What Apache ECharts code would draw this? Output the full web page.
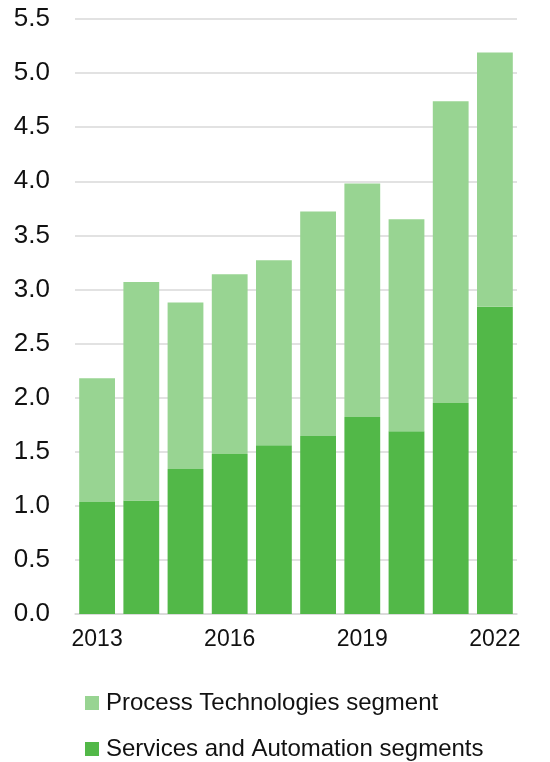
<!DOCTYPE html>
<html><head><meta charset="utf-8">
<script src="https://cdn.jsdelivr.net/npm/echarts@6/dist/echarts.min.js"></script>
<style>html,body{margin:0;padding:0;background:#fff}#c{width:550px;height:762px}</style>
</head><body><div id="c"></div>
<script>
var years = ['2013','2014','2015','2016','2017','2018','2019','2020','2021','2022'];
var totals = [2.18, 3.07, 2.88, 3.14, 3.27, 3.72, 3.98, 3.65, 4.74, 5.19];
var services = [1.035, 1.05, 1.34, 1.48, 1.56, 1.645, 1.82, 1.69, 1.95, 2.84];
var yTicks = [0, 0.5, 1, 1.5, 2, 2.5, 3, 3.5, 4, 4.5, 5, 5.5];
var process = totals.map(function(t, i){ return +(t - services[i]).toFixed(3); });

var font = 'Liberation Sans, Arial, sans-serif';
var legendBase = {
  left: 80, itemWidth: 14, itemHeight: 14, icon: 'rect', itemGap: 6,
  textStyle: {fontSize: 24, color: '#111', fontFamily: font, padding: [0,0,0,2]}
};
var chart = echarts.init(document.getElementById('c'));
chart.setOption({
  animation: false,
  textStyle: {fontFamily: font},
  grid: {left: 75, right: 33, top: 19, bottom: 148},
  legend: [
    Object.assign({}, legendBase, {top: 686, data: ['Process Technologies segment']}),
    Object.assign({}, legendBase, {top: 732, data: ['Services and Automation segments']})
  ],
  xAxis: {
    type: 'category', data: years,
    axisLine: {show: true, lineStyle: {color: '#d9d9d9', width: 1.5}},
    axisTick: {show: false},
    axisLabel: {interval: 2, fontSize: 23, color: '#111', margin: 14}
  },
  yAxis: {
    type: 'value', min: 0, max: yTicks[yTicks.length-1], interval: 0.5,
    axisLabel: {fontSize: 26, color: '#111', margin: 25, formatter: function(v){ return v.toFixed(1); }},
    splitLine: {lineStyle: {color: '#d9d9d9', width: 1.5}},
    axisLine: {show: false}, axisTick: {show: false}
  },
  series: [
    {name: 'Services and Automation segments', type: 'bar', stack: 's', data: services,
     barWidth: '81%', itemStyle: {color: '#52b848'}},
    {name: 'Process Technologies segment', type: 'bar', stack: 's', data: process,
     barWidth: '81%', itemStyle: {color: '#98d492'}}
  ]
});
</script></body></html>
